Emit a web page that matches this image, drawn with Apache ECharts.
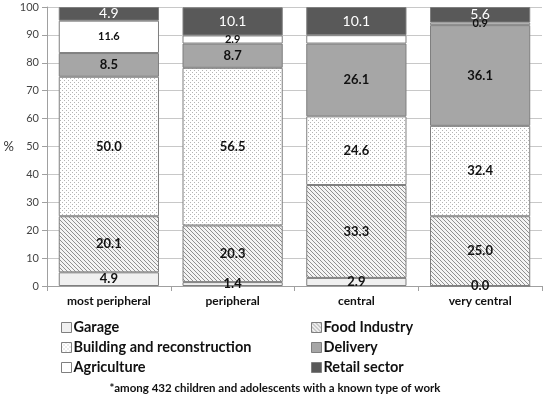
<!DOCTYPE html>
<html><head><meta charset="utf-8">
<script src="https://cdn.jsdelivr.net/npm/echarts@6/dist/echarts.min.js"></script>
<style>html,body{margin:0;padding:0;background:#fff}#c{width:550px;height:394px}</style>
</head><body><div id="c"></div>
<script>
var categories = ['most peripheral', 'peripheral', 'central', 'very central'];
var garage = [4.9, 1.4, 2.9, 0.0];
var foodIndustry = [20.1, 20.3, 33.3, 25.0];
var building = [50.0, 56.5, 24.6, 32.4];
var delivery = [8.5, 8.7, 26.1, 36.1];
var agriculture = [11.6, 2.9, 3.0, 0.9];
var retail = [4.9, 10.1, 10.1, 5.6];
var agricultureHidden = [false, false, true, false];
var yTicks = [0, 10, 20, 30, 40, 50, 60, 70, 80, 90, 100];

function hatch() {
  var s = 4, c = document.createElement('canvas');
  c.width = s; c.height = s;
  var g = c.getContext('2d');
  g.fillStyle = '#f4f4f4'; g.fillRect(0, 0, s, s);
  g.strokeStyle = '#909090'; g.lineWidth = 1;
  for (var i = -1; i <= 1; i++) {
    g.beginPath(); g.moveTo(i * s, 0); g.lineTo(i * s + s, s); g.stroke();
  }
  return c;
}
function dots() {
  var c = document.createElement('canvas');
  c.width = 4; c.height = 4;
  var g = c.getContext('2d');
  g.fillStyle = '#ffffff'; g.fillRect(0, 0, 4, 4);
  g.fillStyle = '#b4b4b4';
  g.fillRect(0, 0, 1, 1); g.fillRect(2, 2, 1, 1);
  return c;
}
var font = 'Lato, "Open Sans", sans-serif';
var border = '#7f7f7f';
function mk(name, data, color, lab, hidden) {
  return {
    name: name, type: 'bar', stack: 'a', barCategoryGap: '19%',
    data: data.map(function (v, i) {
      var d = { value: v };
      if (hidden && hidden[i]) d.label = { show: false };
      return d;
    }),
    itemStyle: { color: color, borderColor: border, borderWidth: 1 },
    label: Object.assign({
      show: true, position: 'inside', fontFamily: font,
      formatter: function (p) { return p.value.toFixed(1); }
    }, lab),
    emphasis: { disabled: true }
  };
}
var chart = echarts.init(document.getElementById('c'));
var boldLab = { color: '#111', fontWeight: 'bold', fontSize: 13 };
var legendText = { fontSize: 14.5, fontWeight: 'bold', color: '#111', fontFamily: font, padding: [0, 0, 0, -3] };
chart.setOption({
  animation: false,
  grid: { left: 47, right: 8, top: 7, bottom: 108, containLabel: false },
  xAxis: {
    type: 'category', data: categories,
    axisLine: { lineStyle: { color: '#a0a0a0' } },
    axisTick: { show: true, length: 5, lineStyle: { color: '#a0a0a0' } },
    axisLabel: { color: '#111', fontWeight: 'bold', fontSize: 12, fontFamily: font, margin: 9 }
  },
  yAxis: {
    type: 'value', min: 0, max: 100, interval: 10,
    name: '%', nameLocation: 'middle', nameRotate: 0, nameGap: 32,
    nameTextStyle: { color: '#333', fontSize: 13, fontFamily: font },
    axisLine: { show: true, lineStyle: { color: '#a0a0a0' } },
    axisTick: { show: true, length: 5, lineStyle: { color: '#a0a0a0' } },
    axisLabel: { color: '#444', fontSize: 11, fontFamily: font, margin: 8,
      formatter: function (v) { return yTicks.indexOf(v) >= 0 ? String(v) : ''; } },
    splitLine: { lineStyle: { color: '#c8c8c8' } }
  },
  legend: [
    { orient: 'vertical', left: 56, top: 315, icon: 'rect', itemWidth: 10, itemHeight: 10, itemGap: 5,
      data: ['Garage', 'Building and reconstruction', 'Agriculture'],
      itemStyle: { borderColor: '#7f7f7f', borderWidth: 1 },
      textStyle: legendText },
    { orient: 'vertical', left: 306, top: 315, icon: 'rect', itemWidth: 10, itemHeight: 10, itemGap: 5,
      data: ['Food Industry', 'Delivery', 'Retail sector'],
      itemStyle: { borderColor: '#7f7f7f', borderWidth: 1 },
      textStyle: legendText }
  ],
  title: {
    text: '*among 432 children and adolescents with a known type of work',
    left: 'center', top: 377,
    textStyle: { fontSize: 11.5, fontWeight: 'bold', color: '#111', fontFamily: font }
  },
  series: [
    mk('Garage', garage, '#f0f0f0', boldLab),
    mk('Food Industry', foodIndustry, { image: hatch(), repeat: 'repeat' }, boldLab),
    mk('Building and reconstruction', building, { image: dots(), repeat: 'repeat' }, boldLab),
    mk('Delivery', delivery, '#a6a6a6', boldLab),
    mk('Agriculture', agriculture, '#ffffff', { color: '#111', fontWeight: 'bold', fontSize: 11 }, agricultureHidden),
    mk('Retail sector', retail, '#595959', { color: '#fff', fontWeight: 'normal', fontSize: 14 })
  ]
});
</script></body></html>
